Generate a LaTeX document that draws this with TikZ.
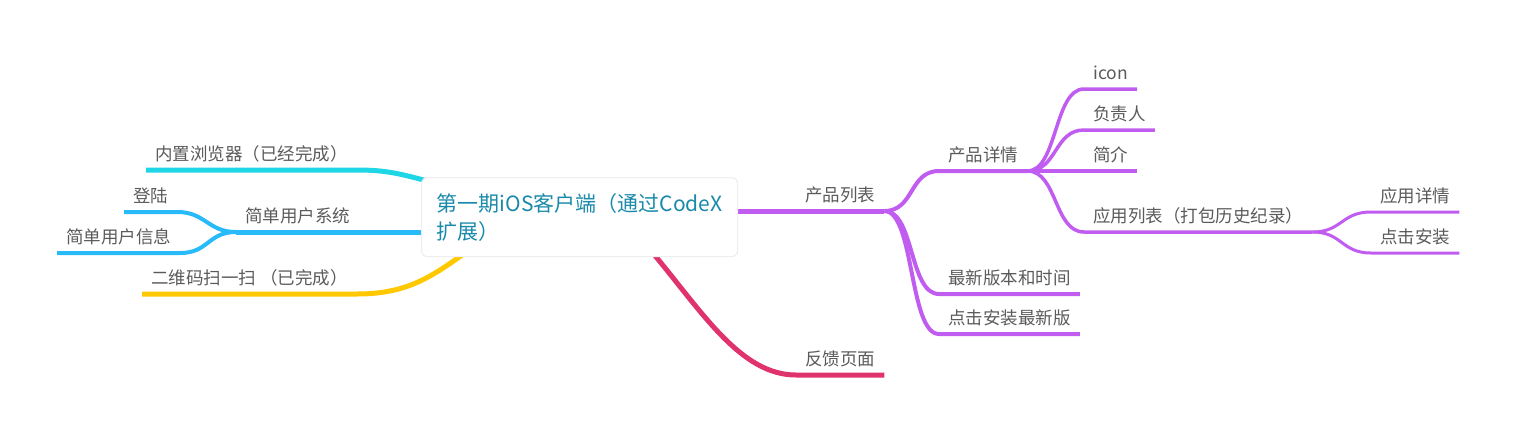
\documentclass[tikz,border=0pt]{standalone}
\usepackage{fontspec}
\setmainfont{Noto Sans CJK SC}
\usetikzlibrary{backgrounds,calc}

\definecolor{purp}{HTML}{C15CF0}
\definecolor{rose}{HTML}{E0336E}
\definecolor{aqua}{HTML}{1ED6E6}
\definecolor{sky}{HTML}{29BBF9}
\definecolor{amber}{HTML}{FFC800}
\definecolor{ink}{HTML}{5A5A5A}
\definecolor{coreblue}{HTML}{1B8AAA}
\definecolor{rim}{HTML}{EEEEEE}

\begin{document}
\begin{tikzpicture}[x=1pt, y=-1pt, line cap=round,
    every node/.style={font=\fontsize{17.5}{21}\selectfont, text=ink},
    topic/.style={anchor=south west, inner xsep=9pt, inner ysep=4pt, text height=13pt, text depth=5pt}]

    \useasboundingbox (0,0) rectangle (1518,434);

    % central topic
    \node[draw=rim, line width=1.2pt, rounded corners=6pt, fill=white, anchor=north west,
          minimum width=316pt, minimum height=79pt, inner xsep=15pt, align=left,
          font=\fontsize{21}{28}\selectfont, text=coreblue] (core) at (421,177)
          {第一期iOS客户端（通过CodeX\\扩展）};

    % right side
    \node[topic] (list) at (796,211) {产品列表};
    \node[topic] (detail) at (939,171) {产品详情};
    \foreach \n/\y/\t in {1/89/icon, 2/130/负责人, 3/171/简介, 4/232/应用列表（打包历史纪录）}
        \node[topic] (d\n) at (1084,\y) {\t};
    \node[topic] (appinfo) at (1371,212) {应用详情};
    \node[topic] (install) at (1371,253) {点击安装};
    \node[topic] (latest) at (939,294) {最新版本和时间};
    \node[topic] (setup) at (939,334) {点击安装最新版};
    \node[topic] (feedback) at (796,375) {反馈页面};

    % left side
    \node[topic] (browser) at (146,170) {内置浏览器（已经完成）};
    \node[topic] (account) at (236,232) {简单用户系统};
    \node[topic] (login) at (124,212) {登陆};
    \node[topic] (profile) at (57,253) {简单用户信息};
    \node[topic] (scan) at (142,294) {二维码扫一扫 （已完成）};

    \begin{scope}[on background layer]
        \draw[purp, line width=5pt] (core.east |- list.south) -- (list.south east);
        \foreach \c in {detail, latest, setup}
            \draw[purp, line width=4pt] (list.south east) .. controls +(30,0) and +(-30,0) .. (\c.south west) -- (\c.south east);
        \foreach \c in {d1, d2, d3, d4}
            \draw[purp, line width=3.5pt] (detail.south east) .. controls +(30,0) and +(-30,0) .. (\c.south west) -- (\c.south east);
        \foreach \c in {appinfo, install}
            \draw[purp, line width=3pt] (d4.south east) .. controls +(30,0) and +(-30,0) .. (\c.south west) -- (\c.south east);

        \draw[rose, line width=5pt] ($(core.south west)+(232,-4)$) .. controls +(50,60) and +(-55,0) .. (feedback.south west) -- (feedback.south east);

        \draw[aqua, line width=5pt] (browser.south west) -- (browser.south east) .. controls +(30,0) and +(-30,-8) .. ($(core.north west)+(10,5)$);
        \draw[sky, line width=5pt] (account.south west) -- (account.south -| core.west);
        \foreach \c in {login, profile}
            \draw[sky, line width=4pt] (account.south west) .. controls +(-28,0) and +(28,0) .. (\c.south east) -- (\c.south west);
        \draw[amber, line width=5pt] (scan.south west) -- (scan.south east) .. controls +(50,0) and +(-35,25) .. ($(core.south west)+(45,-5)$);
    \end{scope}
\end{tikzpicture}
\end{document}
